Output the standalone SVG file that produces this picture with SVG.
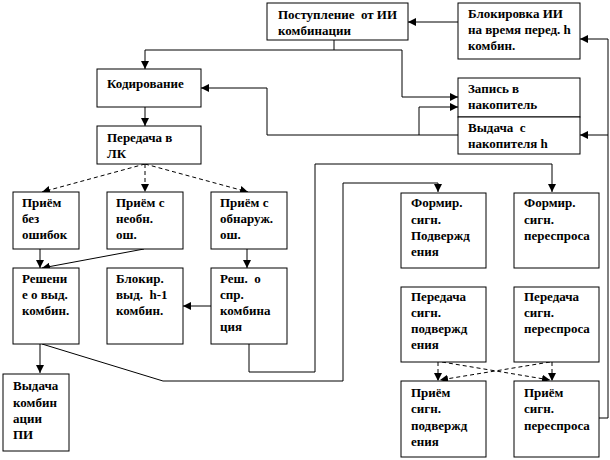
<svg xmlns="http://www.w3.org/2000/svg" width="610" height="460" viewBox="0 0 610 460">
<defs>
<marker id="ah" markerUnits="userSpaceOnUse" markerWidth="8" markerHeight="8" viewBox="0 0 8 8" refX="8" refY="4" orient="auto">
<path d="M0,0 L8,4 L0,8 Z" fill="#000"/>
</marker>
</defs>
<style>
rect{fill:#fff;stroke:#000;stroke-width:1}
text{font-weight:bold;font-size:13px;fill:#000;white-space:pre}
.c path,.c line,.c polyline{fill:none;stroke:#000;stroke-width:1}
.c .d{stroke-dasharray:4 3}
.c .a{marker-end:url(#ah)}
</style>
<rect x="0" y="0" width="610" height="460" style="stroke:none"/>
<g class="c" id="connectors">
<polyline class="a" points="458,22 408,22"/>
<polyline points="334,40 334,50"/>
<polyline points="145,50 402,50"/>
<polyline class="a" points="145,50 145,69"/>
<polyline class="a" points="402,50 402,97 458,97"/>
<polyline class="a" points="458,135 267,135 267,88 201,88"/>
<polyline class="a" points="419,135 419,107 458,107"/>
<polyline class="a" points="599,418 608,418 608,39 580,39"/>
<polyline class="a" points="608,135 580,135"/>
<polyline class="a" points="145,107 145,126"/>
<line class="d a" x1="145" y1="164" x2="42" y2="192"/>
<line class="d a" x1="145" y1="164" x2="145" y2="192"/>
<line class="d a" x1="145" y1="164" x2="248" y2="192"/>
<polyline class="a" points="40,249 40,268"/>
<line class="a" x1="144" y1="249" x2="42" y2="268"/>
<polyline class="a" points="247,249 247,268"/>
<polyline class="a" points="211,306 183,306"/>
<polyline class="a" points="40,344 40,373"/>
<polyline class="a" points="42,344 163,381 343,381 343,183 438,183 438,192"/>
<polyline class="a" points="249,344 249,372 315,372 315,164 552,164 552,192"/>
<line class="d a" x1="438" y1="362" x2="438" y2="381"/>
<line class="d a" x1="552" y1="362" x2="552" y2="381"/>
<line class="d a" x1="442" y1="362" x2="550" y2="380"/>
<line class="d a" x1="550" y1="362" x2="440" y2="380"/>
</g>
<g font-family="Liberation Serif, serif">
<g id="n1"><rect x="267" y="3" width="141" height="37"/><text x="278" y="19" xml:space="preserve">Поступление  от ИИ</text><text x="278" y="35">комбинации</text></g>
<g id="n2"><rect x="458" y="3" width="122" height="56"/><text x="468" y="18">Блокировка ИИ</text><text x="468" y="34">на время перед. h</text><text x="468" y="50">комбин.</text></g>
<g id="n3"><rect x="458" y="78" width="122" height="39"/><text x="468" y="93">Запись в</text><text x="468" y="109">накопитель</text></g>
<g id="n4"><rect x="458" y="117" width="122" height="37"/><text x="468" y="132" xml:space="preserve">Выдача  с</text><text x="468" y="148">накопителя h</text></g>
<g id="n5"><rect x="97" y="69" width="104" height="38"/><text x="107" y="88">Кодирование</text></g>
<g id="n6"><rect x="97" y="126" width="104" height="38"/><text x="107" y="142">Передача в</text><text x="107" y="158">ЛК</text></g>
<g id="n7"><rect x="13" y="192" width="66" height="57"/><text x="22" y="207">Приём</text><text x="22" y="223">без</text><text x="22" y="239">ошибок</text></g>
<g id="n8"><rect x="107" y="192" width="76" height="57"/><text x="116" y="207">Приём с</text><text x="116" y="223">необн.</text><text x="116" y="239">ош.</text></g>
<g id="n9"><rect x="211" y="192" width="76" height="57"/><text x="220" y="207">Приём с</text><text x="220" y="223">обнаруж.</text><text x="220" y="239">ош.</text></g>
<g id="n10"><rect x="13" y="268" width="66" height="76"/><text x="22" y="283">Решени</text><text x="22" y="299">е о выд.</text><text x="22" y="315">комбин.</text></g>
<g id="n11"><rect x="107" y="268" width="76" height="76"/><text x="116" y="283">Блокир.</text><text x="116" y="299" xml:space="preserve">выд.  h-1</text><text x="116" y="315">комбин.</text></g>
<g id="n12"><rect x="211" y="268" width="76" height="76"/><text x="220" y="283" xml:space="preserve">Реш.  о</text><text x="220" y="299">спр.</text><text x="220" y="315">комбина</text><text x="220" y="331">ция</text></g>
<g id="n13"><rect x="3" y="374" width="66" height="77"/><text x="13" y="390">Выдача</text><text x="13" y="407">комбин</text><text x="13" y="423">ации</text><text x="13" y="439">ПИ</text></g>
<g id="n14"><rect x="401" y="193" width="85" height="75"/><text x="411" y="207">Формир.</text><text x="411" y="224">сигн.</text><text x="411" y="240">Подвержд</text><text x="411" y="256">ения</text></g>
<g id="n15"><rect x="514" y="193" width="85" height="75"/><text x="524" y="207">Формир.</text><text x="524" y="224">сигн.</text><text x="524" y="240">переспроса</text></g>
<g id="n16"><rect x="401" y="287" width="85" height="75"/><text x="411" y="301">Передача</text><text x="411" y="317">сигн.</text><text x="411" y="333">подвержд</text><text x="411" y="349">ения</text></g>
<g id="n17"><rect x="514" y="287" width="85" height="75"/><text x="524" y="301">Передача</text><text x="524" y="317">сигн.</text><text x="524" y="333">переспроса</text></g>
<g id="n18"><rect x="401" y="381" width="85" height="76"/><text x="411" y="397">Приём</text><text x="411" y="413">сигн.</text><text x="411" y="430">подвержд</text><text x="411" y="446">ения</text></g>
<g id="n19"><rect x="514" y="381" width="85" height="76"/><text x="524" y="397">Приём</text><text x="524" y="413">сигн.</text><text x="524" y="430">переспроса</text></g>
</g>
</svg>
